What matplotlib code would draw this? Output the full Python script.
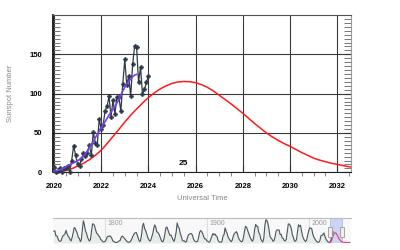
import numpy as np
import matplotlib
matplotlib.use('Agg')
import matplotlib.pyplot as plt
from matplotlib.patches import Rectangle
import matplotlib.transforms as mtransforms

plt.rcParams['font.family'] = ['Liberation Sans', 'DejaVu Sans']

# monthly observed sunspot number, Jan 2020 .. Jan 2024
obs_start = 2020
observed = [6.2, 0.2, 1.5, 5.2, 0.2, 5.8, 6.1, 7.5, 0.6, 14.4, 34.0, 21.8,
            10.4, 8.2, 17.2, 24.5, 21.2, 25.0, 34.3, 22.0, 51.3, 37.4, 34.8, 67.5,
            55.3, 59.9, 78.5, 84.1, 96.5, 70.5, 91.4, 74.6, 96.0, 95.5, 77.6, 112.8,
            143.6, 110.9, 122.6, 96.4, 137.4, 160.5, 159.1, 114.8, 133.6, 99.4, 105.4, 114.2,
            123.0]

# 13-month smoothed, Jan 2020 .. Jul 2023
smoothed = [1.8, 2.0, 2.4, 3.2, 4.2, 5.3, 6.8, 8.6, 9.6, 10.8, 12.1, 13.4,
            14.8, 16.4, 18.3, 20.8, 23.6, 27.4, 31.5, 35.6, 39.7, 43.8, 48.0, 52.0,
            56.0, 60.3, 64.6, 68.6, 72.8, 76.8, 80.1, 83.7, 88.0, 93.0, 98.5, 103.5,
            108.2, 112.5, 115.5, 118.5, 121.5, 123.6, 124.5]

# predicted cycle 25 curve (quarterly)
pred_years = [2020.0, 2020.25, 2020.5, 2020.75, 2021.0, 2021.25, 2021.5, 2021.75,
              2022.0, 2022.25, 2022.5, 2022.75, 2023.0, 2023.25, 2023.5, 2023.75,
              2024.0, 2024.25, 2024.5, 2024.75, 2025.0, 2025.25, 2025.5, 2025.75,
              2026.0, 2026.25, 2026.5, 2026.75, 2027.0, 2027.25, 2027.5, 2027.75,
              2028.0, 2028.25, 2028.5, 2028.75, 2029.0, 2029.25, 2029.5, 2029.75,
              2030.0, 2030.25, 2030.5, 2030.75, 2031.0, 2031.25, 2031.5, 2031.75,
              2032.0, 2032.25, 2032.5, 2032.75, 2033.0, 2034.0, 2035.0, 2036.0,
              2037.0, 2038.0, 2039.0, 2040.0]
pred_vals = [0.0, 0.8, 2.2, 4.5, 7.8, 11.5, 16.0, 21.5,
             28.0, 36.5, 45.5, 54.5, 64.0, 72.5, 80.5, 88.0,
             95.0, 101.0, 106.0, 110.0, 113.0, 114.8, 115.5, 115.2,
             114.0, 111.5, 108.0, 103.5, 98.0, 92.5, 87.0, 81.0,
             75.0, 68.5, 62.0, 56.0, 50.0, 45.0, 40.5, 36.5,
             33.0, 29.0, 25.0, 21.5, 18.0, 15.5, 13.5, 11.5,
             10.0, 8.5, 7.0, 6.0, 5.0, 3.0, 2.0, 1.4,
             1.0, 0.7, 0.5, 0.3]

# yearly sunspot number 1749 .. 2023 for the range selector
hist_start = 1749
history = [134.7, 139.0, 79.5, 79.7, 51.2, 20.3, 16.0, 17.0, 54.0, 79.3, 90.0,
           104.8, 143.2, 102.0, 75.2, 60.7, 34.8, 19.0, 63.0, 116.3, 176.8,
           168.0, 136.0, 110.8, 58.0, 51.0, 11.7, 33.0, 154.2, 257.3, 209.8,
           141.3, 113.5, 64.2, 38.0, 17.0, 40.2, 138.2, 220.0, 218.2, 196.8,
           149.8, 111.0, 100.0, 78.2, 68.3, 35.5, 26.7, 10.7, 6.8, 11.3,
           24.2, 56.7, 75.0, 71.8, 79.2, 70.3, 46.8, 16.8, 13.5, 4.2,
           0.0, 2.3, 8.3, 20.3, 23.2, 59.0, 76.3, 68.3, 52.9, 38.5,
           24.2, 9.2, 6.3, 2.2, 11.4, 28.2, 59.9, 83.0, 108.5, 115.2,
           117.4, 80.8, 44.3, 13.4, 19.5, 85.8, 192.7, 227.3, 168.7, 143.0,
           105.5, 63.3, 40.3, 18.1, 25.1, 65.8, 102.7, 166.3, 208.3, 182.5,
           126.3, 122.0, 102.7, 74.1, 39.0, 12.7, 8.2, 43.4, 104.4, 178.3,
           182.2, 146.6, 112.1, 83.5, 89.2, 57.8, 30.7, 13.9, 62.8, 123.6,
           232.0, 185.3, 169.2, 110.1, 74.5, 28.3, 18.9, 20.7, 5.7, 10.0,
           53.7, 90.5, 99.0, 106.1, 105.8, 86.3, 42.4, 21.8, 11.2, 10.4,
           11.8, 59.5, 121.7, 142.0, 130.0, 106.6, 69.4, 43.8, 44.4, 20.2,
           15.7, 4.6, 8.5, 40.8, 70.1, 105.5, 90.1, 102.8, 80.9, 73.2,
           30.9, 9.5, 6.0, 2.4, 16.1, 79.0, 95.0, 173.6, 134.6, 105.7,
           62.7, 43.5, 23.7, 9.7, 27.9, 74.0, 106.5, 114.7, 129.7, 108.2,
           59.4, 35.1, 18.6, 9.2, 14.6, 60.2, 132.8, 190.6, 182.6, 148.0,
           113.0, 79.2, 50.8, 27.1, 16.1, 55.3, 154.3, 214.7, 193.0, 190.7,
           118.9, 98.3, 45.0, 20.1, 6.6, 54.2, 200.7, 269.3, 261.7, 225.1,
           159.0, 76.4, 53.4, 39.9, 15.0, 22.0, 66.8, 132.9, 150.0, 149.4,
           148.0, 94.4, 97.6, 54.1, 49.2, 22.5, 18.4, 39.3, 131.0, 220.1,
           218.9, 198.9, 162.4, 91.0, 60.5, 20.6, 14.8, 33.9, 123.0, 211.1,
           191.8, 203.3, 133.0, 76.1, 44.9, 25.1, 11.6, 28.9, 88.3, 136.3,
           173.9, 170.4, 163.6, 99.3, 65.3, 45.8, 24.7, 12.6, 4.2, 4.8,
           24.9, 80.8, 84.5, 94.0, 113.3, 69.8, 39.8, 21.7, 7.0, 3.6,
           8.8, 29.6, 83.2, 125.5]

obs_t = obs_start + np.arange(len(observed)) / 12.0
sm_t = obs_start + np.arange(len(smoothed)) / 12.0
hist_t = hist_start + np.arange(len(history)) + 0.5

W, H = 400, 250
fig = plt.figure(figsize=(4, 2.5), dpi=100)

# ---- main chart
ax = fig.add_axes([53 / W, 1 - 172.3 / H, (351 - 53) / W, (172.3 - 14.7) / H])
ax.set_xlim(2019.96, 2032.58)
ax.set_ylim(0, 200.4)

ax.plot(pred_years, pred_vals, color='#ff1a1a', lw=1.1, zorder=3)
ax.plot(obs_t, observed, color='#2c3a48', lw=0.9, marker='P', ms=2.8,
        mec='#2c3a48', mew=0.5, zorder=4, clip_on=False)
ax.plot(sm_t, smoothed, color='#7a3cf0', lw=1.2, zorder=5)

ax.set_xticks(np.arange(2020, 2033, 2))
ax.set_xticks(np.arange(2020, 2033, 0.5), minor=True)
ax.set_yticks([0, 50, 100, 150])
ax.set_yticks(np.arange(0, 201, 5), minor=True)
ax.grid(True, which='major', color='#3a3a3a', lw=0.8)
ax.set_axisbelow(True)

ax.tick_params(axis='both', which='major', labelsize=5.5, direction='in', length=5,
               color='#333333', pad=8)
ax.tick_params(axis='y', which='both', left=True, right=True, direction='in')
ax.tick_params(axis='y', which='minor', length=5, color='#777777', width=0.7)
ax.tick_params(axis='x', which='minor', length=3, color='#888888', width=0.7)
for lab in ax.get_xticklabels() + ax.get_yticklabels():
    lab.set_fontweight('bold')

ax.spines['left'].set_color('black')
ax.spines['left'].set_linewidth(1.2)
ax.spines['bottom'].set_color('#222222')
ax.spines['top'].set_color('#555555')
ax.spines['right'].set_color('#999999')

ax.set_xlabel('Universal Time', fontsize=5.5, color='#888888', labelpad=3)
ax.set_ylabel('Sunspot Number', fontsize=5.5, color='#888888', labelpad=11)
ax.text(2025.5, 11, '25', fontsize=6, fontweight='bold', ha='center', va='center')

# ---- range selector
rs = fig.add_axes([53 / W, 1 - 243 / H, (351 - 53) / W, 25 / H])
rs.set_xlim(1748.7, 2041)
rs.set_ylim(-5, 290)
rs.set_facecolor('#f7f8f7')
rs.fill_between(hist_t, history, -5, color='#e8ede8', lw=0)
rs.plot(hist_t, history, color='#4a5560', lw=0.8)
rs.plot(pred_years, pred_vals, color='#e8406a', lw=0.8)
rs.axvspan(2020, 2032.6, facecolor='#c5cff6', edgecolor='#a9b6ee', alpha=0.85, lw=0.6)
for yr in [1800, 1900, 2000]:
    rs.axvline(yr, color='#dddddd', lw=0.8, zorder=0)
    rs.text(yr + 2, 0.93, str(yr), transform=rs.get_xaxis_transform(),
            fontsize=5, color='#999999', va='top')
trans = mtransforms.blended_transform_factory(rs.transData, rs.transAxes)
for hx in [2020, 2032.6]:
    rs.add_patch(Rectangle((hx - 2, 0.25), 4, 0.38, transform=trans,
                           facecolor='#eeeeee', edgecolor='#999999',
                           lw=0.6, zorder=6, clip_on=False))
rs.set_xticks([])
rs.set_yticks([])
for s in ['left', 'right', 'bottom']:
    rs.spines[s].set_visible(False)
rs.spines['top'].set_color('#bbbbbb')

fig.savefig('out.png', dpi=100)
